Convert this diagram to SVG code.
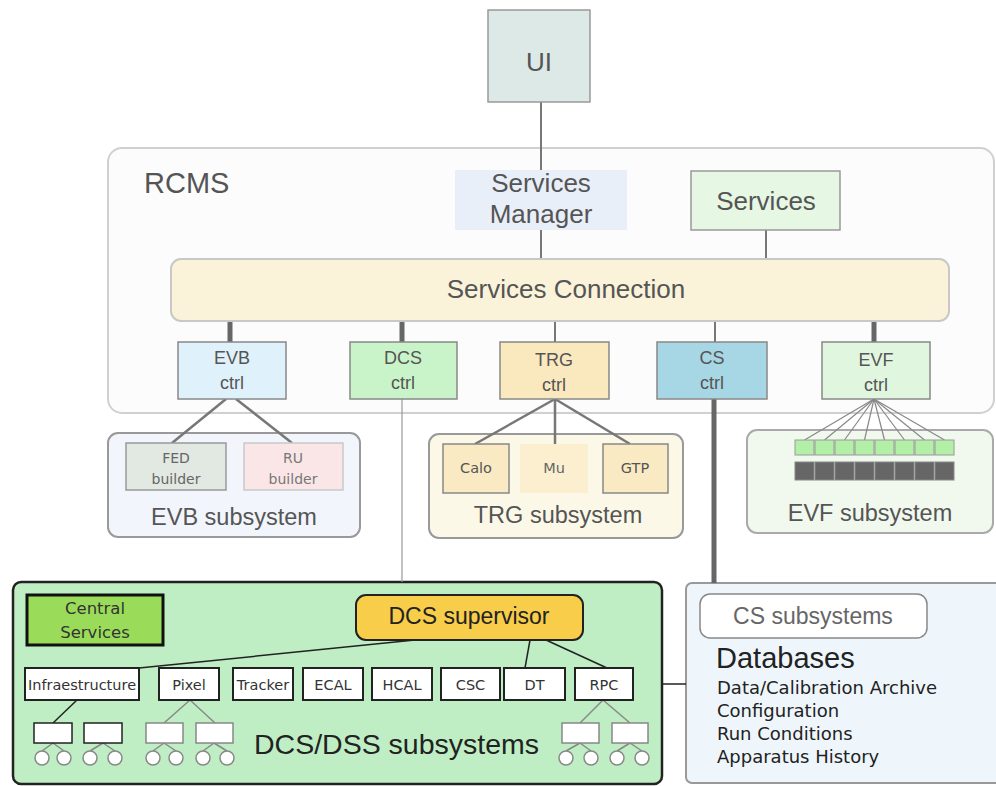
<svg xmlns="http://www.w3.org/2000/svg" width="996" height="786" viewBox="0 0 996 786">
  <style>
    .sans { font-family: "Liberation Sans", Arial, sans-serif; }
    .wide { font-family: "DejaVu Sans", Verdana, sans-serif; }
    .grey { fill: #555; }
    .dark { fill: #222; }
    .ctrl { stroke: #888; stroke-width: 1.5; }
    .frame { stroke: #999; stroke-width: 2; }
    .row { fill: #fff; stroke: #222; stroke-width: 2; }
    .leaf { fill: #fff; stroke: #888; stroke-width: 1.5; }
    .ball { fill: #fff; stroke: #888; stroke-width: 1.5; }
    .thick { stroke: #666; stroke-width: 5; fill: none; }
    .thin { stroke: #777; stroke-width: 2; fill: none; }
    .tree { stroke: #777; stroke-width: 2.5; fill: none; }
    .fan { stroke: #888; stroke-width: 1.2; fill: none; }
    .black { stroke: #222; stroke-width: 1.5; fill: none; }
    .twig { stroke: #888; stroke-width: 1.5; fill: none; }
  </style>

  <rect width="996" height="786" fill="#fff"/>

  <!-- containers -->
  <g id="rcms">
    <rect x="108" y="148" width="886" height="265" rx="14" fill="#fbfcfb" stroke="#d0d0d0" stroke-width="2"/>
    <text x="144" y="193" class="sans grey" font-size="29">RCMS</text>
  </g>
  <g id="evb-subsystem">
    <rect x="108" y="433" width="252" height="104" rx="10" fill="#f2f5fb" class="frame"/>
    <text x="234" y="525" class="sans grey" font-size="23.5" text-anchor="middle">EVB subsystem</text>
  </g>
  <g id="trg-subsystem">
    <rect x="429" y="434" width="254" height="104" rx="10" fill="#fcf8e8" class="frame"/>
    <text x="558" y="523" class="sans grey" font-size="23.5" text-anchor="middle">TRG subsystem</text>
  </g>
  <g id="evf-subsystem">
    <rect x="747" y="430" width="246" height="103" rx="10" fill="#f1f9ee" stroke="#aaa" stroke-width="2"/>
    <text x="870" y="521" class="sans grey" font-size="23.5" text-anchor="middle">EVF subsystem</text>
  </g>
  <g id="dcs-dss">
    <rect x="13" y="582" width="649" height="202" rx="8" fill="#bfeec5" stroke="#222" stroke-width="2.5"/>
    <text x="254" y="754" class="sans dark" font-size="28.5">DCS/DSS subsystems</text>
  </g>
  <g id="cs-panel">
    <rect x="686" y="583" width="320" height="200" rx="6" fill="#eef6fb" stroke="#999" stroke-width="2"/>
  </g>

  <!-- connectors -->
  <g id="connectors">
    <line x1="541" y1="102" x2="541" y2="259" class="thin" stroke-width="1.5"/>
    <line x1="766" y1="230" x2="766" y2="259" class="thin"/>
    <line x1="230" y1="321" x2="230" y2="342" class="thick"/>
    <line x1="402" y1="321" x2="402" y2="342" class="thick"/>
    <line x1="555" y1="321" x2="555" y2="342" class="thin"/>
    <line x1="715" y1="321" x2="715" y2="342" class="thin"/>
    <line x1="874" y1="321" x2="874" y2="342" class="thick"/>

    <line x1="226" y1="399" x2="172" y2="443" class="tree"/>
    <line x1="236" y1="399" x2="292" y2="443" class="tree"/>

    <line x1="555" y1="399" x2="475" y2="444" class="tree"/>
    <line x1="555" y1="399" x2="555" y2="444" class="tree"/>
    <line x1="555" y1="399" x2="630" y2="444" class="tree"/>

    <g class="fan">
      <line x1="874" y1="399" x2="804.5" y2="440"/>
      <line x1="874" y1="399" x2="824.5" y2="440"/>
      <line x1="874" y1="399" x2="844.5" y2="440"/>
      <line x1="874" y1="399" x2="864.5" y2="440"/>
      <line x1="874" y1="399" x2="884.5" y2="440"/>
      <line x1="874" y1="399" x2="904.5" y2="440"/>
      <line x1="874" y1="399" x2="924.5" y2="440"/>
      <line x1="874" y1="399" x2="944.5" y2="440"/>
    </g>

    <line x1="402" y1="399" x2="402" y2="582" stroke="#999" stroke-width="1.2"/>
    <line x1="714" y1="399" x2="714" y2="583" class="thick"/>
    <line x1="662" y1="684" x2="686" y2="684" class="black"/>

    <!-- DCS supervisor to detector rows -->
    <line x1="139" y1="668" x2="415" y2="640" class="black"/>
    <line x1="530" y1="640" x2="525" y2="668" class="black"/>
    <line x1="546" y1="640" x2="607" y2="668" class="black"/>

    <!-- leaf trees -->
    <line x1="77" y1="700" x2="53" y2="723" class="black"/>
    <line x1="190" y1="700" x2="164" y2="723" class="twig"/>
    <line x1="190" y1="700" x2="215" y2="723" class="twig"/>
    <line x1="603" y1="700" x2="580" y2="723" class="twig"/>
    <line x1="603" y1="700" x2="630" y2="723" class="twig"/>

    <g class="twig">
      <path d="M53 743 L42 751 M53 743 L64 751"/>
      <path d="M103 743 L90 751 M103 743 L115 751"/>
      <path d="M164 743 L153 751 M164 743 L176 751"/>
      <path d="M214 743 L203 751 M214 743 L227 751"/>
      <path d="M580 743 L566 751 M580 743 L591 751"/>
      <path d="M630 743 L617 751 M630 743 L642 751"/>
    </g>
  </g>

  <!-- top level nodes -->
  <g id="ui">
    <rect x="488" y="10" width="102" height="92" fill="#dde9e6" stroke="#999" stroke-width="1.5"/>
    <text x="539" y="71" class="sans grey" font-size="26" text-anchor="middle">UI</text>
  </g>
  <g id="services-manager">
    <rect x="455" y="170" width="172" height="60" fill="#e9eff9"/>
    <text x="541" y="192" class="sans grey" font-size="26" text-anchor="middle">Services</text>
    <text x="541" y="223" class="sans grey" font-size="26" text-anchor="middle">Manager</text>
  </g>
  <g id="services">
    <rect x="691" y="171" width="149" height="59" fill="#e6f7e3" stroke="#999" stroke-width="1.5"/>
    <text x="766" y="210" class="sans grey" font-size="26" text-anchor="middle">Services</text>
  </g>
  <g id="services-connection">
    <rect x="171" y="259" width="778" height="62" rx="10" fill="#fbf3d9" stroke="#c8c8c8" stroke-width="2"/>
    <text x="566" y="298" class="sans grey" font-size="26" text-anchor="middle">Services Connection</text>
  </g>

  <!-- controllers -->
  <g id="evb-ctrl">
    <rect x="178" y="342" width="108" height="57" fill="#dff2fb" class="ctrl"/>
    <text x="232" y="364" class="sans grey" font-size="18" text-anchor="middle">EVB</text>
    <text x="232" y="389" class="sans grey" font-size="18" text-anchor="middle">ctrl</text>
  </g>
  <g id="dcs-ctrl">
    <rect x="350" y="342" width="107" height="57" fill="#c9f4c9" class="ctrl"/>
    <text x="403" y="364" class="sans grey" font-size="18" text-anchor="middle">DCS</text>
    <text x="403" y="389" class="sans grey" font-size="18" text-anchor="middle">ctrl</text>
  </g>
  <g id="trg-ctrl">
    <rect x="500" y="342" width="109" height="57" fill="#fae8bf" class="ctrl"/>
    <text x="554" y="366" class="sans grey" font-size="18" text-anchor="middle">TRG</text>
    <text x="554" y="391" class="sans grey" font-size="18" text-anchor="middle">ctrl</text>
  </g>
  <g id="cs-ctrl">
    <rect x="657" y="342" width="110" height="57" fill="#a7d6e4" class="ctrl"/>
    <text x="712" y="364" class="sans grey" font-size="18" text-anchor="middle">CS</text>
    <text x="712" y="389" class="sans grey" font-size="18" text-anchor="middle">ctrl</text>
  </g>
  <g id="evf-ctrl">
    <rect x="822" y="342" width="108" height="57" fill="#e0f6df" class="ctrl"/>
    <text x="876" y="366" class="sans grey" font-size="18" text-anchor="middle">EVF</text>
    <text x="876" y="391" class="sans grey" font-size="18" text-anchor="middle">ctrl</text>
  </g>

  <!-- EVB builders -->
  <g id="fed-builder">
    <rect x="126" y="443" width="100" height="47" fill="#e2e8e2" stroke="#999" stroke-width="1.5"/>
    <text x="176" y="463" class="wide" fill="#666" font-size="14" text-anchor="middle">FED</text>
    <text x="176" y="484" class="wide" fill="#666" font-size="14" text-anchor="middle">builder</text>
  </g>
  <g id="ru-builder">
    <rect x="244" y="443" width="99" height="47" fill="#fae6e7" stroke="#c9c9c9" stroke-width="1.5"/>
    <text x="293" y="463" class="wide" fill="#777" font-size="14" text-anchor="middle">RU</text>
    <text x="293" y="484" class="wide" fill="#777" font-size="14" text-anchor="middle">builder</text>
  </g>

  <!-- trigger parts -->
  <g id="calo">
    <rect x="443" y="444" width="66" height="49" fill="#faeac3" stroke="#888" stroke-width="1.5"/>
    <text x="476" y="473" class="wide" fill="#555" font-size="14.5" text-anchor="middle">Calo</text>
  </g>
  <g id="mu">
    <rect x="520" y="444" width="68" height="49" fill="#fcefd0"/>
    <text x="554" y="473" class="wide" fill="#666" font-size="14.5" text-anchor="middle">Mu</text>
  </g>
  <g id="gtp">
    <rect x="603" y="444" width="65" height="49" fill="#faeac3" stroke="#888" stroke-width="1.5"/>
    <text x="635" y="473" class="wide" fill="#555" font-size="14.5" text-anchor="middle">GTP</text>
  </g>

  <!-- event filter farm -->
  <g id="evf-farm">
    <g fill="#b3efa6" stroke="#999" stroke-width="1">
      <rect x="795" y="440" width="19" height="15"/>
      <rect x="815" y="440" width="19" height="15"/>
      <rect x="835" y="440" width="19" height="15"/>
      <rect x="855" y="440" width="19" height="15"/>
      <rect x="875" y="440" width="19" height="15"/>
      <rect x="895" y="440" width="19" height="15"/>
      <rect x="915" y="440" width="19" height="15"/>
      <rect x="935" y="440" width="19" height="15"/>
    </g>
    <g fill="#666" stroke="#888" stroke-width="1">
      <rect x="795" y="462" width="19" height="18"/>
      <rect x="815" y="462" width="19" height="18"/>
      <rect x="835" y="462" width="19" height="18"/>
      <rect x="855" y="462" width="19" height="18"/>
      <rect x="875" y="462" width="19" height="18"/>
      <rect x="895" y="462" width="19" height="18"/>
      <rect x="915" y="462" width="19" height="18"/>
      <rect x="935" y="462" width="19" height="18"/>
    </g>
  </g>

  <!-- DCS internals -->
  <g id="central-services">
    <rect x="27" y="595" width="136" height="50" fill="#9adc5a" stroke="#111" stroke-width="3"/>
    <text x="95" y="614" class="wide" fill="#333" font-size="16.5" text-anchor="middle">Central</text>
    <text x="95" y="638" class="wide" fill="#333" font-size="16.5" text-anchor="middle">Services</text>
  </g>
  <g id="dcs-supervisor">
    <rect x="356" y="595" width="227" height="45" rx="10" fill="#f7cd4a" stroke="#222" stroke-width="2"/>
    <text x="469" y="624" class="sans dark" font-size="23" text-anchor="middle">DCS supervisor</text>
  </g>
  <g id="infraestructure">
    <rect x="25" y="668" width="114" height="32" class="row"/>
    <text x="82" y="690" class="wide" fill="#333" font-size="14.5" text-anchor="middle">Infraestructure</text>
  </g>
  <g id="pixel">
    <rect x="159" y="668" width="60" height="32" class="row"/>
    <text x="189" y="690" class="wide" fill="#333" font-size="14.5" text-anchor="middle">Pixel</text>
  </g>
  <g id="tracker">
    <rect x="233" y="668" width="60" height="32" class="row"/>
    <text x="263" y="690" class="wide" fill="#333" font-size="14.5" text-anchor="middle">Tracker</text>
  </g>
  <g id="ecal">
    <rect x="303" y="668" width="60" height="32" class="row"/>
    <text x="333" y="690" class="wide" fill="#333" font-size="14.5" text-anchor="middle">ECAL</text>
  </g>
  <g id="hcal">
    <rect x="372" y="668" width="60" height="32" class="row"/>
    <text x="402" y="690" class="wide" fill="#333" font-size="14.5" text-anchor="middle">HCAL</text>
  </g>
  <g id="csc">
    <rect x="441" y="668" width="59" height="32" class="row"/>
    <text x="470.5" y="690" class="wide" fill="#333" font-size="14.5" text-anchor="middle">CSC</text>
  </g>
  <g id="dt">
    <rect x="504" y="668" width="61" height="32" class="row"/>
    <text x="534.5" y="690" class="wide" fill="#333" font-size="14.5" text-anchor="middle">DT</text>
  </g>
  <g id="rpc">
    <rect x="575" y="668" width="58" height="32" class="row"/>
    <text x="604" y="690" class="wide" fill="#333" font-size="14.5" text-anchor="middle">RPC</text>
  </g>

  <!-- front-end leaves -->
  <g id="infra-leaves">
    <rect x="34" y="723" width="38" height="20" fill="#fff" stroke="#222" stroke-width="1.5"/>
    <rect x="84" y="723" width="38" height="20" fill="#fff" stroke="#222" stroke-width="1.5"/>
    <circle cx="42" cy="758" r="7" class="ball"/>
    <circle cx="64" cy="758" r="7" class="ball"/>
    <circle cx="90" cy="758" r="7" class="ball"/>
    <circle cx="115" cy="758" r="7" class="ball"/>
  </g>
  <g id="pixel-leaves">
    <rect x="146" y="723" width="37" height="20" class="leaf"/>
    <rect x="196" y="723" width="37" height="20" class="leaf"/>
    <circle cx="153" cy="758" r="7" class="ball"/>
    <circle cx="176" cy="758" r="7" class="ball"/>
    <circle cx="203" cy="758" r="7" class="ball"/>
    <circle cx="227" cy="758" r="7" class="ball"/>
  </g>
  <g id="rpc-leaves">
    <rect x="562" y="723" width="37" height="20" class="leaf"/>
    <rect x="612" y="723" width="36" height="20" class="leaf"/>
    <circle cx="566" cy="758" r="7" class="ball"/>
    <circle cx="591" cy="758" r="7" class="ball"/>
    <circle cx="617" cy="758" r="7" class="ball"/>
    <circle cx="642" cy="758" r="7" class="ball"/>
  </g>

  <!-- central services subsystems -->
  <g id="cs-subsystems">
    <rect x="700" y="594" width="227" height="44" rx="10" fill="#fff" stroke="#888" stroke-width="1.5"/>
    <text x="813" y="624" class="sans" fill="#666" font-size="23" text-anchor="middle">CS subsystems</text>
  </g>
  <g id="databases">
    <text x="716" y="668" class="sans dark" font-size="29">Databases</text>
    <text x="717" y="694" class="wide dark" font-size="18">Data/Calibration Archive</text>
    <text x="717" y="717" class="wide dark" font-size="18">Configuration</text>
    <text x="717" y="740" class="wide dark" font-size="18">Run Conditions</text>
    <text x="717" y="763" class="wide dark" font-size="18">Apparatus History</text>
  </g>
</svg>
